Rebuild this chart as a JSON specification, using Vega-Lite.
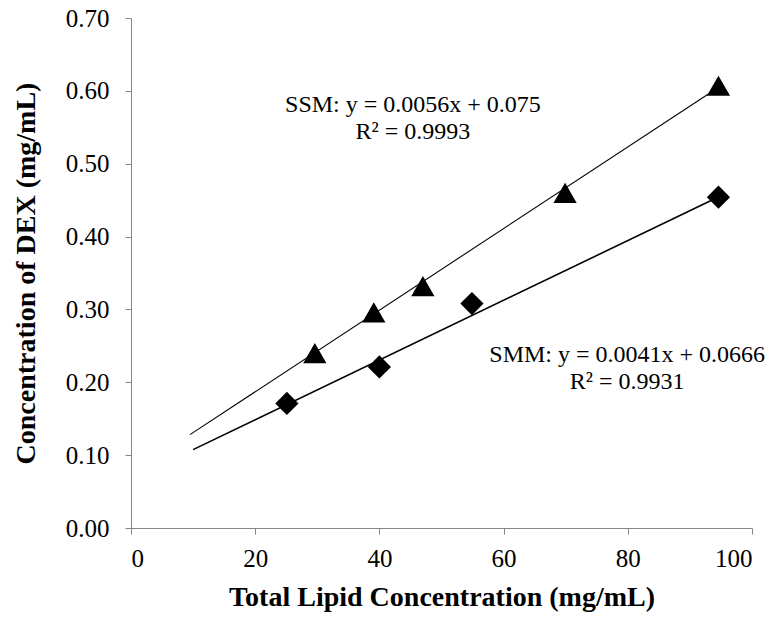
{
  "$schema": "https://vega.github.io/schema/vega-lite/v6.json",
  "width": 621,
  "height": 510,
  "autosize": {"type": "none"},
  "padding": {"left": 131, "top": 18, "right": 31, "bottom": 91},
  "background": "white",
  "config": {
    "view": {"stroke": null},
    "font": "Liberation Serif",
    "axis": {
      "grid": false,
      "domainColor": "#868686",
      "tickColor": "#868686",
      "labelFont": "Liberation Serif",
      "labelFontSize": 25,
      "labelColor": "black",
      "titleFont": "Liberation Serif",
      "titleFontWeight": "bold",
      "titleColor": "black",
      "tickSize": 6
    }
  },
  "datasets": {
    "points": [
      {"series": "SSM", "x": 29.6, "y": 0.240},
      {"series": "SSM", "x": 39.1, "y": 0.296},
      {"series": "SSM", "x": 47.0, "y": 0.332},
      {"series": "SSM", "x": 69.9, "y": 0.460},
      {"series": "SSM", "x": 94.6, "y": 0.607},
      {"series": "SMM", "x": 25.1, "y": 0.171},
      {"series": "SMM", "x": 40.0, "y": 0.221},
      {"series": "SMM", "x": 54.9, "y": 0.308},
      {"series": "SMM", "x": 94.6, "y": 0.454}
    ],
    "trend": [
      {"series": "SSM", "x": 9.5, "y": 0.1282},
      {"series": "SSM", "x": 95, "y": 0.607},
      {"series": "SMM", "x": 10, "y": 0.1076},
      {"series": "SMM", "x": 95, "y": 0.456}
    ],
    "labels": [
      {"label": "SSM: y = 0.0056x + 0.075", "x": 45.4, "y": 0.581},
      {"label": "R² = 0.9993", "x": 45.4, "y": 0.544},
      {"label": "SMM: y = 0.0041x + 0.0666", "x": 79.9, "y": 0.238},
      {"label": "R² = 0.9931", "x": 79.9, "y": 0.201}
    ]
  },
  "layer": [
    {
      "data": {"name": "trend"},
      "mark": {"type": "line", "color": "black"},
      "encoding": {
        "x": {
          "field": "x", "type": "quantitative",
          "scale": {"domain": [0, 100], "nice": false, "zero": false},
          "axis": {"values": [0, 20, 40, 60, 80, 100], "title": "Total Lipid Concentration (mg/mL)", "titleFontSize": 28, "labelPadding": 12, "titlePadding": 12}
        },
        "y": {
          "field": "y", "type": "quantitative",
          "scale": {"domain": [0, 0.7], "nice": false},
          "axis": {"values": [0, 0.1, 0.2, 0.3, 0.4, 0.5, 0.6, 0.7], "format": ".2f", "title": "Concentration of DEX (mg/mL)", "titleFontSize": 28, "labelPadding": 16, "titlePadding": 25}
        },
        "detail": {"field": "series"},
        "strokeWidth": {
          "field": "series", "type": "nominal",
          "scale": {"domain": ["SSM", "SMM"], "range": [1.1, 1.6]},
          "legend": null
        }
      }
    },
    {
      "data": {"name": "points"},
      "mark": {"type": "point", "filled": true, "color": "black", "opacity": 1, "size": 540},
      "encoding": {
        "x": {"field": "x", "type": "quantitative"},
        "y": {"field": "y", "type": "quantitative"},
        "shape": {
          "field": "series", "type": "nominal",
          "scale": {"domain": ["SSM", "SMM"], "range": ["triangle-up", "diamond"]},
          "legend": null
        }
      }
    },
    {
      "data": {"name": "labels"},
      "mark": {"type": "text", "font": "Liberation Serif", "fontSize": 24, "color": "black", "align": "center", "baseline": "middle"},
      "encoding": {
        "x": {"field": "x", "type": "quantitative"},
        "y": {"field": "y", "type": "quantitative"},
        "text": {"field": "label"}
      }
    }
  ]
}
